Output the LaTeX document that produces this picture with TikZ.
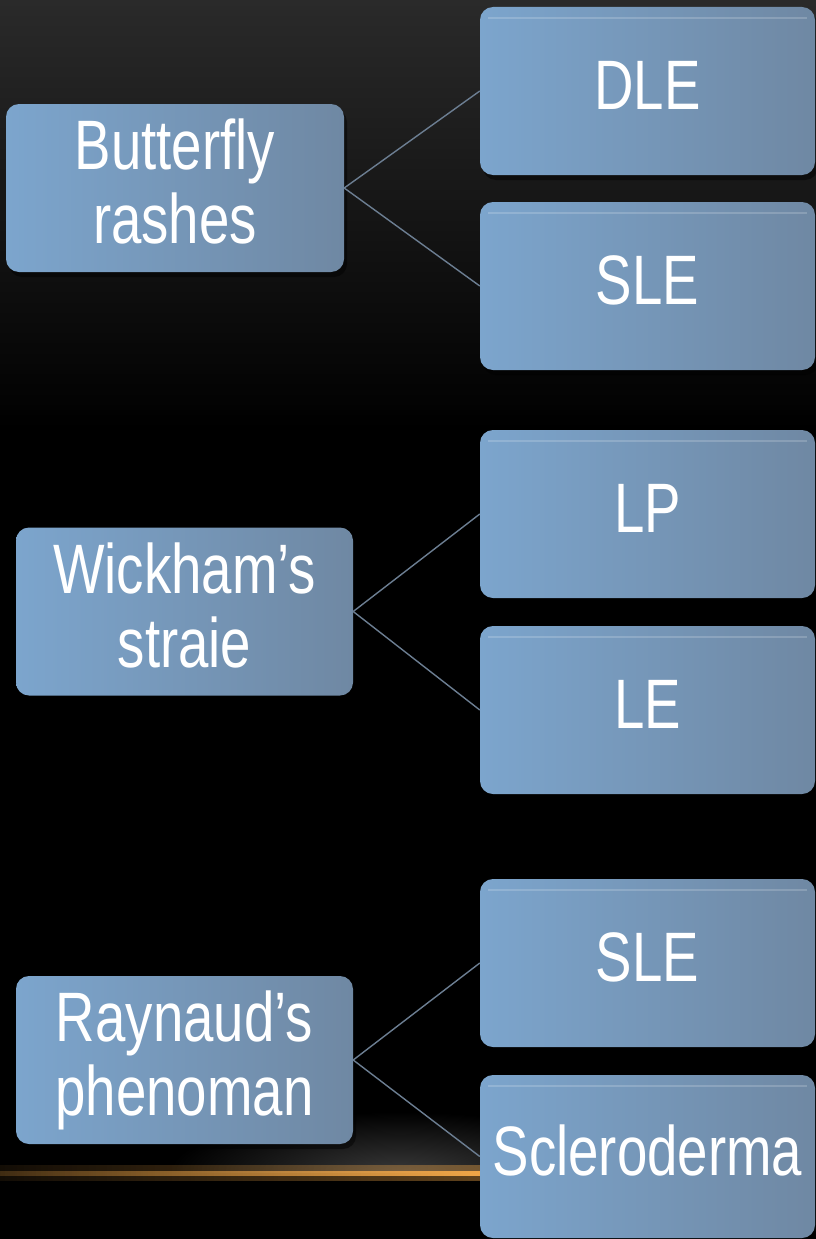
\documentclass[tikz,border=0pt]{standalone}
\usepackage{fontspec}
\newfontfamily\boxfont[FakeStretch=0.78]{Liberation Sans}
\usetikzlibrary{shadows,fadings}

\definecolor{boxlight}{RGB}{124,165,205}
\definecolor{boxdark}{RGB}{111,136,163}
\definecolor{linkcol}{RGB}{108,126,146}
\definecolor{bgtop}{RGB}{42,42,42}
\definecolor{glowcol}{RGB}{240,166,72}
\definecolor{hazecol}{RGB}{56,56,56}

\tikzfading[name=fade left, left color=transparent!80, middle color=transparent!15, right color=transparent!0]

% box text as a centred column, nudged to sit on the optical centre
\newcommand{\lift}[1]{\raisebox{-4pt}[\height][\depth]{\begin{tabular}{@{}c@{}}#1\end{tabular}}}

\tikzset{
  card/.style={
    rounded corners=13pt, draw=none,
    left color=boxlight, right color=boxdark,
    text=white, align=center,
    font=\boxfont\fontsize{70}{74}\selectfont,
    drop shadow={shadow xshift=3pt, shadow yshift=-5pt, opacity=0.45, fill=black},
    inner sep=0pt
  },
  parentbox/.style={card, minimum height=168pt},
  childbox/.style={card, minimum width=335pt, minimum height=168pt},
  link/.style={draw=linkcol, line width=1.4pt},
  topline/.style={draw=white, opacity=0.18, line width=1.5pt}
}

\begin{document}
\begin{tikzpicture}[x=1pt, y=-1pt]
  \useasboundingbox (0,0) rectangle (816,1239);

  % backdrop: dark grey fading into black
  \fill[black] (0,0) rectangle (816,1239);
  \shade[top color=bgtop, bottom color=black] (0,0) rectangle (816,430);

  % soft haze above the gold rule
  \begin{scope}
    \clip (0,1080) rectangle (816,1172);
    \shade[inner color=hazecol, outer color=black] (400,1172) ellipse (230 and 60);
  \end{scope}

  % gold rule with its glow
  \fill[glowcol, opacity=0.4, path fading=fade left] (0,1165) rectangle (482,1181);
  \fill[glowcol, path fading=fade left] (0,1170.5) rectangle (482,1175.5);

  % parent boxes
  \node[parentbox, minimum width=338pt] (bf) at (175,188)   {\lift{Butterfly\\rashes}};
  \node[parentbox, minimum width=337pt] (wk) at (184.5,611.5) {\lift{Wickham’s\\straie}};
  \node[parentbox, minimum width=337pt] (rn) at (184.5,1060)  {\lift{Raynaud’s\\phenoman}};

  % child boxes
  \node[childbox] (dle)  at (647.5,91)   {\lift{DLE}};
  \node[childbox] (sleA) at (647.5,286)  {\lift{SLE}};
  \node[childbox] (lp)   at (647.5,514)  {\lift{LP}};
  \node[childbox] (le)   at (647.5,710)  {\lift{LE}};
  \node[childbox] (sleB) at (647.5,963)  {\lift{SLE}};
  \node[childbox, minimum height=163pt] (scl) at (647.5,1156.5) {\lift{Scleroderma}};

  % faint top highlight on the child boxes
  \foreach \n in {dle,sleA,lp,le,sleB,scl}{
    \draw[topline] ([xshift=8pt,yshift=-11pt]\n.north west) -- ([xshift=-8pt,yshift=-11pt]\n.north east);
  }

  % connectors
  \draw[link] (bf.east) -- (dle.west);
  \draw[link] (bf.east) -- (sleA.west);
  \draw[link] (wk.east) -- (lp.west);
  \draw[link] (wk.east) -- (le.west);
  \draw[link] (rn.east) -- (sleB.west);
  \draw[link] (rn.east) -- (scl.west);
\end{tikzpicture}
\end{document}
